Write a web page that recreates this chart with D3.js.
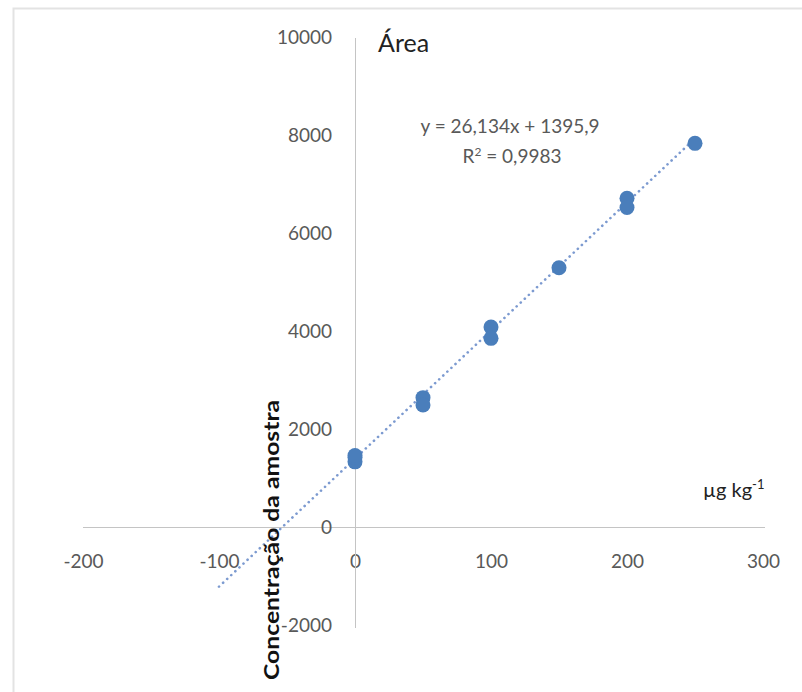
<!DOCTYPE html>
<html>
<head>
<meta charset="utf-8">
<script src="https://cdn.jsdelivr.net/npm/d3@7"></script>
<style>
  body { margin: 0; background: #fff; }
  text { font-family: Lato, 'Open Sans', sans-serif; }
</style>
</head>
<body>
<svg width="802" height="692"></svg>
<script>

let svg = d3.select('svg');

let width = +svg.attr('width');
let height = +svg.attr('height');

// calibration points (concentration, area)
let conc = [0, 0, 0, 50, 50, 100, 100, 150, 200, 200, 250];
let area = [1330, 1420, 1460, 2640, 2490, 4080, 3850, 5290, 6710, 6520, 7830];

let xTicks = [-200, -100, 0, 100, 200, 300];
let yTicks = [-2000, 0, 2000, 4000, 6000, 8000, 10000];

let slope = 26.134, intercept = 1395.9;
let trendRange = [-100, 250];

let x = d3.scaleLinear().domain([-200, 300]).range([83, 763]);
let y = d3.scaleLinear().domain([-2000, 10000]).range([625, 37]);

// frame
svg.append('path')
    .attr('d', 'M13.5,' + height + 'V8.5H' + width)
    .attr('fill', 'none')
    .attr('stroke', '#e3e3e3')
    .attr('stroke-width', 2);

// x axis through y = 0
let gx = svg.append('g')
    .attr('transform', 'translate(0,' + y(0) + ')')
    .call(d3.axisBottom(x).tickValues(xTicks).tickSize(0).tickPadding(28).tickFormat(d => String(d)));
gx.select('.domain').attr('stroke', '#c4c4c4').attr('d', 'M83,0.5H765');
gx.selectAll('text').attr('fill', '#595959').style('font-size', '19px');

// y axis through x = 0
let gy = svg.append('g')
    .attr('transform', 'translate(' + x(0) + ',0)')
    .call(d3.axisLeft(y).tickValues(yTicks).tickSize(0).tickPadding(23).tickFormat(d => String(d)));
gy.select('.domain').attr('stroke', '#c4c4c4').attr('d', 'M0.5,38V628');
gy.selectAll('text').attr('fill', '#595959').style('font-size', '19px');

// trendline
svg.append('line')
    .attr('x1', x(trendRange[0]))
    .attr('y1', y(slope * trendRange[0] + intercept))
    .attr('x2', x(trendRange[1]))
    .attr('y2', y(slope * trendRange[1] + intercept))
    .attr('stroke', '#7c9ad0')
    .attr('stroke-width', 2.6)
    .attr('stroke-linecap', 'round')
    .attr('stroke-dasharray', '0.1 5.5');

// points
svg.selectAll('circle')
    .data(conc)
    .enter().append('circle')
    .attr('cx', d => x(d))
    .attr('cy', (d, i) => y(area[i]))
    .attr('r', 7.5)
    .attr('fill', '#4a7ebb');

// equation
let eq = svg.append('text')
    .attr('text-anchor', 'middle')
    .attr('fill', '#595959')
    .style('font-size', '19px');
eq.append('tspan').attr('x', 510).attr('y', 133).text('y = 26,134x + 1395,9');
let r2 = eq.append('tspan').attr('x', 512).attr('y', 163);
r2.append('tspan').text('R');
r2.append('tspan').attr('dy', -7).style('font-size', '12px').text('2');
r2.append('tspan').attr('dy', 7).text(' = 0,9983');

// axis titles
svg.append('text')
    .attr('x', 378).attr('y', 52)
    .style('font-size', '25px')
    .attr('fill', '#222')
    .text('Área');

let unit = svg.append('text')
    .attr('x', 703).attr('y', 497)
    .style('font-size', '20px')
    .attr('fill', '#222');
unit.append('tspan').text('µg kg');
unit.append('tspan').attr('dy', -8).style('font-size', '13px').text('-1');

svg.append('text')
    .attr('text-anchor', 'middle')
    .attr('transform', 'translate(279,540)rotate(-90)')
    .style('font-size', '20px')
    .style('font-weight', 'bold')
    .attr('fill', '#111')
    .attr('textLength', 280)
    .attr('lengthAdjust', 'spacingAndGlyphs')
    .text('Concentração da amostra');

</script>
</body>
</html>
